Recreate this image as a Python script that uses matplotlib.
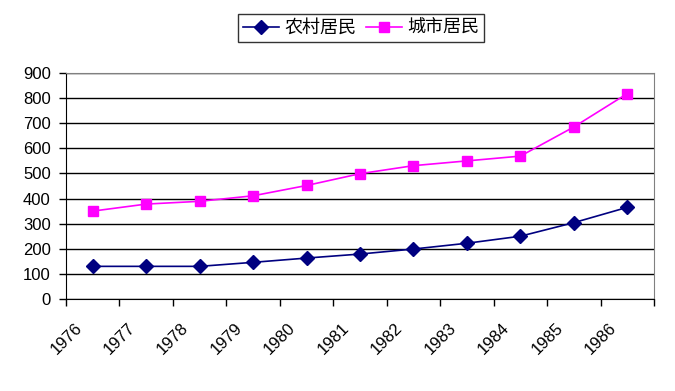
import numpy as np
import matplotlib.pyplot as plt
from matplotlib import transforms

plt.rcParams['font.family'] = ['Liberation Sans', 'Noto Sans CJK SC']

years = ['1976', '1977', '1978', '1979', '1980', '1981', '1982', '1983', '1984', '1985', '1986']
rural = [130, 130, 130, 146, 163, 179, 199, 222, 250, 304, 365]
urban = [350, 378, 389, 411, 452, 499, 531, 550, 569, 685, 818]

fig = plt.figure(figsize=(6.75, 3.91), dpi=100)
ax = fig.add_axes([66 / 675, 1 - 299 / 391, (654 - 66) / 675, (299 - 73) / 391])

x = np.arange(len(years)) + 0.5
ax.plot(x, rural, color='#000080', marker='D', markersize=7, lw=1.2, label='农村居民')
ax.plot(x, urban, color='#FF00FF', marker='s', markersize=7, lw=1.2, label='城市居民')

ax.set_xlim(0, len(years))
ax.set_ylim(0, 900)
ax.set_yticks(np.arange(0, 1000, 100))
ax.yaxis.grid(True, color='black', lw=1)
ax.set_axisbelow(True)

ax.set_xticks(np.arange(len(years) + 1))
ax.set_xticklabels([])
ax.set_xticks(x, minor=True)
ax.set_xticklabels(years, minor=True, rotation=45, ha='right', va='center',
                   rotation_mode='anchor', fontsize=12)
ax.tick_params(axis='x', which='minor', length=0, pad=19)
ax.tick_params(axis='x', which='major', length=5, width=1, direction='out')
ax.tick_params(axis='y', length=5, width=1, direction='out', labelsize=12, pad=6)

# nudge the rotated year labels left, like the original
shift = transforms.ScaledTranslation(-9.6 / 72, 0, fig.dpi_scale_trans)
for lbl in ax.get_xticklabels(minor=True):
    lbl.set_transform(lbl.get_transform() + shift)

for s in ['top', 'right']:
    ax.spines[s].set_color('#808080')
for s in ['left', 'bottom']:
    ax.spines[s].set_color('black')

leg = fig.legend(loc='center', bbox_to_anchor=(361 / 675, 1 - 28 / 391), ncol=2,
                 frameon=True, fancybox=False, edgecolor='black',
                 handlelength=2.0, columnspacing=0.5, handletextpad=0.3,
                 borderpad=0.3, borderaxespad=0,
                 prop={'family': ['Noto Sans CJK SC'], 'size': 13})
leg.get_frame().set_linewidth(1)

fig.savefig('out.png', dpi=100)
